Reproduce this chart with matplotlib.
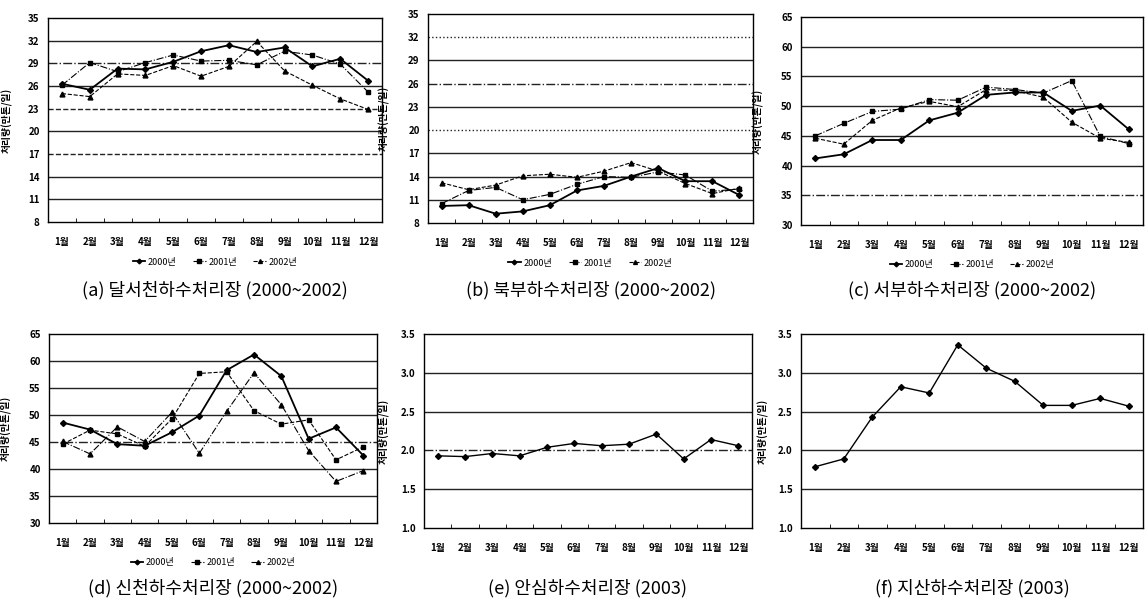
import numpy as np
import matplotlib
matplotlib.use('Agg')
from matplotlib import pyplot as plt
from matplotlib.ticker import FixedLocator

plt.rcParams['font.family'] = ['Noto Sans CJK KR', 'DejaVu Sans']

months = ['1월', '2월', '3월', '4월', '5월', '6월', '7월', '8월', '9월', '10월', '11월', '12월']
year_labels = ['2000년', '2001년', '2002년']

# (a) 달서천
dalseo_2000 = [26.3, 25.5, 28.3, 28.2, 29.2, 30.6, 31.4, 30.5, 31.1, 28.6, 29.6, 26.7]
dalseo_2001 = [26.1, 29.1, 27.9, 29.1, 30.1, 29.3, 29.4, 28.8, 30.6, 30.1, 28.9, 25.2]
dalseo_2002 = [25.0, 24.6, 27.6, 27.4, 28.7, 27.3, 28.6, 31.9, 28.0, 26.1, 24.3, 22.9]

# (b) 북부
bukbu_2000 = [10.2, 10.3, 9.2, 9.5, 10.3, 12.2, 12.8, 14.0, 15.1, 13.4, 13.4, 11.6]
bukbu_2001 = [10.5, 12.2, 12.6, 11.0, 11.7, 13.0, 14.0, 13.9, 14.6, 14.2, 12.1, 12.4]
bukbu_2002 = [13.2, 12.3, 12.9, 14.1, 14.3, 13.9, 14.7, 15.8, 14.7, 13.1, 11.8, 12.5]

# (c) 서부
seobu_2000 = [41.2, 41.9, 44.3, 44.3, 47.6, 48.9, 51.9, 52.3, 52.3, 49.2, 50.1, 46.1]
seobu_2001 = [45.0, 47.1, 49.1, 49.5, 51.1, 51.0, 53.2, 52.8, 52.2, 54.3, 44.9, 43.7]
seobu_2002 = [44.6, 43.6, 47.6, 49.7, 50.8, 49.9, 52.8, 52.6, 51.5, 47.3, 44.6, 43.9]

# (d) 신천
sincheon_2000 = [48.6, 47.3, 44.6, 44.3, 46.8, 49.9, 58.3, 61.2, 57.2, 45.6, 47.7, 42.5]
sincheon_2001 = [44.6, 47.2, 46.5, 44.2, 49.3, 57.7, 58.0, 50.8, 48.3, 49.1, 41.7, 44.1]
sincheon_2002 = [45.1, 42.8, 47.8, 45.1, 50.5, 42.9, 50.7, 57.8, 51.9, 43.4, 37.7, 39.7]

# (e) 안심, (f) 지산
ansim_2003 = [1.93, 1.92, 1.96, 1.93, 2.04, 2.09, 2.06, 2.08, 2.21, 1.89, 2.14, 2.06]
jisan_2003 = [1.79, 1.89, 2.43, 2.82, 2.74, 3.36, 3.06, 2.89, 2.58, 2.58, 2.67, 2.57]

W, H = 1145, 608
fig = plt.figure(figsize=(W / 100, H / 100), dpi=100)


def add_axes(left, right, top, bottom):
    ax = fig.add_axes([left / W, 1 - bottom / H, (right - left) / W, (bottom - top) / H])
    ax.px = (left, right, top, bottom)
    return ax


def draw_panel(ax, series, styles, ylim, ystep, grid_styles, caption, ylab_off, fmt='{:.0f}',
               legend=True, cap_off=66):
    left, right, top, bottom = ax.px
    x = np.arange(1, 13)
    for vals, (mk, ls, lw, ms) in zip(series, styles):
        ax.plot(x, vals, color='black', linestyle=ls, linewidth=lw, marker=mk,
                markersize=ms, markerfacecolor='black', markeredgecolor='black')
    ticks = np.arange(ylim[0], ylim[1] + ystep / 2, ystep)
    # grid styles listed bottom -> top
    for t, gs in zip(ticks[1:-1], grid_styles):
        ax.axhline(t, color='#222222', linestyle=gs, linewidth=1.0, zorder=0)
    ax.set_ylim(ylim)
    ax.set_xlim(0.5, 12.5)
    ax.set_yticks(ticks)
    ax.set_yticklabels([fmt.format(t) for t in ticks], fontsize=7, fontweight='bold')
    ax.set_xticks(x)
    ax.set_xticklabels(months, fontsize=7, fontweight='bold')
    ax.xaxis.set_minor_locator(FixedLocator(np.arange(1.5, 12.5, 1)))
    ax.tick_params(axis='x', which='major', length=0, pad=11)
    ax.tick_params(axis='x', which='minor', length=3, direction='in')
    ax.tick_params(axis='y', length=0, pad=6)
    for sp in ax.spines.values():
        sp.set_linewidth(1.0)
    ax.set_ylabel('처리량(만톤/일)', fontsize=7, fontweight='bold')
    ax.yaxis.set_label_coords(-ylab_off / (right - left), 0.5)
    cx = (left + right) / 2 / W
    if legend:
        ax.legend(year_labels, loc='center', bbox_to_anchor=(cx, 1 - (bottom + 40) / H),
                  bbox_transform=fig.transFigure, ncol=3,
                  frameon=False, fontsize=6.5, handlelength=1.4, handletextpad=0.3,
                  columnspacing=1.8, markerscale=0.8)
    fig.text(cx, 1 - (bottom + cap_off) / H, caption, ha='center', va='center', fontsize=13)


sty3 = [('D', '-', 1.3, 3), ('s', '-.', 0.8, 3.5), ('^', '--', 0.8, 3.5)]
sty_d = [('D', '-', 1.3, 3), ('s', '--', 0.8, 3.5), ('^', '-.', 0.8, 3.5)]
sty1 = [('D', '-', 1.0, 3)]

ax_a = add_axes(48, 382, 18, 222)
draw_panel(ax_a, [dalseo_2000, dalseo_2001, dalseo_2002], sty3, (8, 35), 3,
           ['-', '-', '--', '-', '--', '-', '-.', '-'],
           '(a) 달서천하수처리장 (2000~2002)', 35, cap_off=68)

ax_b = add_axes(428, 753, 14, 223)
draw_panel(ax_b, [bukbu_2000, bukbu_2001, bukbu_2002], sty3, (8, 35), 3,
           ['-', '-', '-', ':', '-', '-.', '-', ':'],
           '(b) 북부하수처리장 (2000~2002)', 38, cap_off=67)

ax_c = add_axes(801, 1143, 17, 225)
draw_panel(ax_c, [seobu_2000, seobu_2001, seobu_2002], sty3, (30, 65), 5,
           ['-.', '-', '-', '-', '-', '-'],
           '(c) 서부하수처리장 (2000~2002)', 37, cap_off=65)

ax_d = add_axes(49, 377, 334, 523)
draw_panel(ax_d, [sincheon_2000, sincheon_2001, sincheon_2002], sty_d, (30, 65), 5,
           ['-', '-', '-.', '-', '-', '-'],
           '(d) 신천하수처리장 (2000~2002)', 37, cap_off=65)

ax_e = add_axes(424, 752, 334, 528)
draw_panel(ax_e, [ansim_2003], sty1, (1.0, 3.5), 0.5,
           ['-', '-.', '-', '-'],
           '(e) 안심하수처리장 (2003)', 34, fmt='{:.1f}', legend=False, cap_off=60)

ax_f = add_axes(801, 1143, 334, 528)
draw_panel(ax_f, [jisan_2003], sty1, (1.0, 3.5), 0.5,
           ['-', '-', '-', '-'],
           '(f) 지산하수처리장 (2003)', 32, fmt='{:.1f}', legend=False, cap_off=60)

fig.savefig('out.png', dpi=100)
